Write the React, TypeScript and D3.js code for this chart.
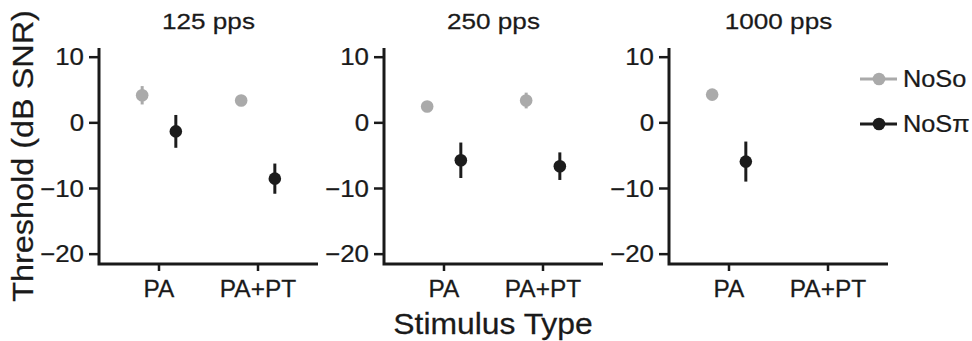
import React from "react";
import * as d3 from "d3";

const panels = ["125 pps", "250 pps", "1000 pps"];
const categories = ["PA", "PA+PT"];
const seriesNames = ["NoSo", "NoSπ"];
const seriesColors = ["#aaaaaa", "#1c1c1c"];
// means and error half-widths per panel, per category (null = no data)
const noSoMean: (number | null)[][] = [[4.2, 3.4], [2.5, 3.4], [4.3, null]];
const noSoErr: (number | null)[][] = [[1.4, 0.3], [0.3, 1.2], [0.3, null]];
const noSpiMean: (number | null)[][] = [[-1.3, -8.5], [-5.7, -6.6], [-5.9, null]];
const noSpiErr: (number | null)[][] = [[2.5, 2.3], [2.7, 2.1], [3.05, null]];
const yTicks = [10, 0, -10, -20];

const W = 972, H = 341;
const FONT = "'Liberation Sans', Arial, Helvetica, sans-serif";
const TXT = "#1a1a1a";

function STxt({ x, y, size, sx, anchor, children, rotate }: any) {
  const tr = `translate(${x},${y})${rotate ? ` rotate(${rotate})` : ""} scale(${sx},1)`;
  return (
    <g transform={tr}>
      <text x={0} y={0} fontSize={size} fontFamily={FONT} fill={TXT} textAnchor={anchor || "start"}
        stroke={TXT} strokeWidth={0.25}>
        {children}
      </text>
    </g>
  );
}

export default function App() {
  const panelLeft = [99, 384, 669];
  const panelW = 219;
  const y = d3.scaleLinear().domain([-21.5, 11.4]).range([264, 48]);
  const seriesMeans = [noSoMean, noSpiMean];
  const seriesErrs = [noSoErr, noSpiErr];

  return (
    <svg width={W} height={H} style={{ position: "absolute", left: 0, top: 0, background: "#fff" }}>
      <rect width={W} height={H} fill="#fff" />
      {panels.map((p, pi) => {
        const x = d3.scalePoint<string>().domain(categories).range([panelLeft[pi], panelLeft[pi] + panelW]).padding(0.606);
        const dodge = x.step() * 0.17;
        const [x0, x1] = x.range();
        const [yb, yt] = y.range();
        return (
          <g key={p}>
            <STxt x={(x0 + x1) / 2} y={28.5} size={22.5} sx={1.16} anchor="middle">{p}</STxt>
            {/* axes */}
            <path d={`M${x0},${yt} V${yb} H${x1}`} fill="none" stroke="#1a1a1a" strokeWidth={3} />
            {yTicks.map((t) => (
              <g key={t}>
                <line x1={x0 - 10} x2={x0} y1={y(t)} y2={y(t)} stroke="#1a1a1a" strokeWidth={2.5} />
                <STxt x={x0 - 15} y={y(t) + 8.3} size={23.5} sx={1.1} anchor="end">
                  {t < 0 ? `−${Math.abs(t)}` : `${t}`}
                </STxt>
              </g>
            ))}
            {categories.map((c) => (
              <g key={c}>
                <line x1={x(c)!} x2={x(c)!} y1={yb} y2={yb + 7} stroke="#1a1a1a" strokeWidth={2.5} />
                <STxt x={x(c)!} y={296.5} size={23.5} sx={1.04} anchor="middle">{c}</STxt>
              </g>
            ))}
            {/* data */}
            {seriesNames.map((s, si) =>
              categories.map((c, ci) => {
                const m = seriesMeans[si][pi][ci];
                const e = seriesErrs[si][pi][ci];
                if (m == null) return null;
                const cx = x(c)! + (si === 0 ? -dodge : dodge);
                return (
                  <g key={s + c}>
                    <line x1={cx} x2={cx} y1={y(m + (e || 0))} y2={y(m - (e || 0))} stroke={seriesColors[si]} strokeWidth={3} />
                    <circle cx={cx} cy={y(m)} r={6.3} fill={seriesColors[si]} />
                  </g>
                );
              })
            )}
          </g>
        );
      })}
      {/* axis titles */}
      <STxt x={33} y={156} size={30} sx={1.08} anchor="middle" rotate={-90}>Threshold (dB SNR)</STxt>
      <STxt x={493} y={334} size={29.5} sx={1.08} anchor="middle">Stimulus Type</STxt>
      {/* legend */}
      {seriesNames.map((s, si) => {
        const cy = 79 + si * 45;
        return (
          <g key={s}>
            <line x1={860} x2={897} y1={cy} y2={cy} stroke={seriesColors[si]} strokeWidth={3} />
            <circle cx={879} cy={cy} r={6.3} fill={seriesColors[si]} />
            <STxt x={903} y={cy + 8.3} size={23} sx={1.1}>{s}</STxt>
          </g>
        );
      })}
    </svg>
  );
}
